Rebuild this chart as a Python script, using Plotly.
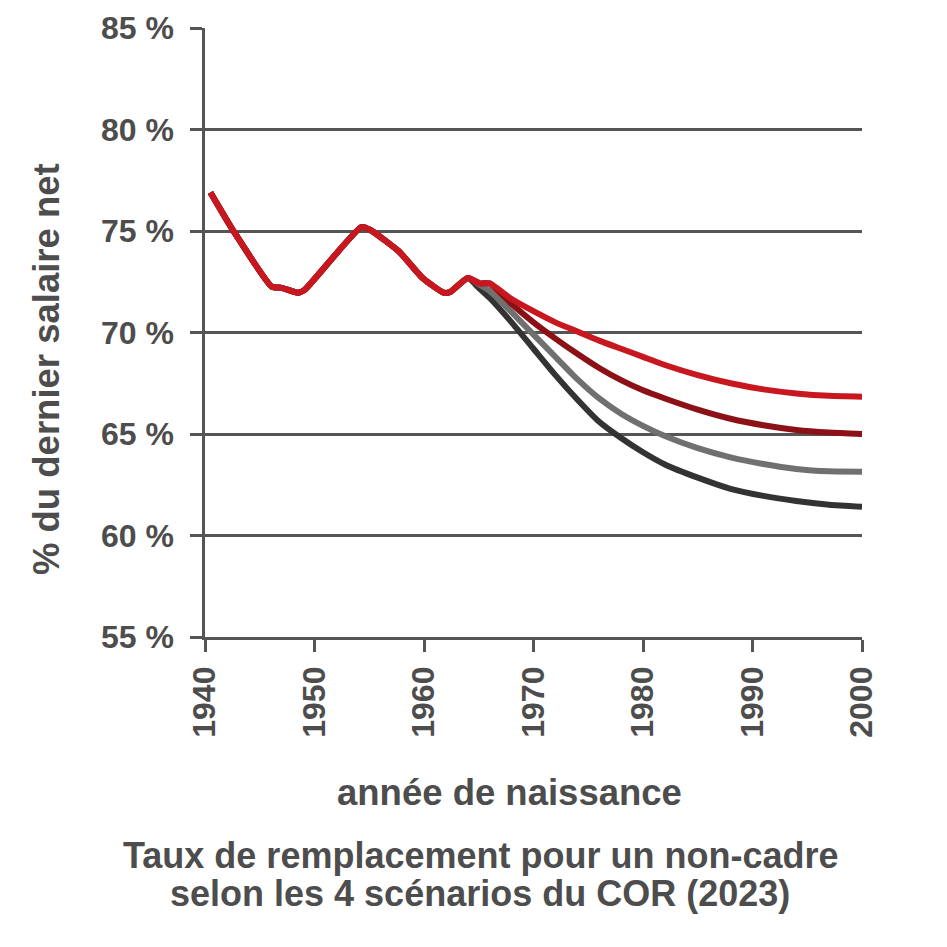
import plotly.graph_objects as go

# Historical (common) part
hist_years = [1940.5, 1942.6, 1946.1, 1947.0, 1948.5, 1949.1, 1954.3, 1955.1,
              1957.7, 1959.9, 1961.8, 1962.4, 1964.0]
hist_vals = [76.9, 75.0, 72.26, 72.2, 71.96, 72.1, 75.2, 75.05,
             74.0, 72.67, 71.96, 72.0, 72.68]

# Scenario projections
red_years = [1965.1, 1966, 1968, 1970, 1972, 1974, 1976, 1978, 1980, 1982, 1985, 1988, 1991, 1994, 1997, 2000]
red_vals = [72.42, 72.42, 71.65, 71.05, 70.5, 70.05, 69.6, 69.2, 68.8, 68.4, 67.9, 67.5, 67.2, 67.0, 66.88, 66.84]

dred_years = [1965.1, 1966, 1968, 1970, 1972, 1974, 1976, 1978, 1980, 1982, 1985, 1988, 1991, 1994, 1997, 2000]
dred_vals = [72.42, 72.42, 71.4, 70.5, 69.7, 68.95, 68.25, 67.65, 67.15, 66.75, 66.2, 65.75, 65.43, 65.2, 65.07, 65.0]

gray_years = [1965.1, 1966, 1968, 1970, 1972, 1974, 1976, 1978, 1980, 1982, 1985, 1988, 1991, 1994, 1997, 2000]
gray_vals = [72.35, 72.05, 71.0, 69.9, 68.8, 67.7, 66.75, 66.0, 65.4, 64.9, 64.3, 63.85, 63.52, 63.28, 63.16, 63.14]

black_years = [1965, 1966, 1968, 1970, 1972, 1974, 1976, 1978, 1980, 1982, 1985, 1988, 1991, 1994, 1997, 2000]
black_vals = [72.2, 71.7, 70.5, 69.2, 67.9, 66.7, 65.6, 64.8, 64.1, 63.5, 62.85, 62.3, 61.95, 61.7, 61.52, 61.42]

x_ticks = [1940, 1950, 1960, 1970, 1980, 1990, 2000]
y_ticks = [55, 60, 65, 70, 75, 80, 85]

series = [
    (black_years, black_vals, "#333333"),
    (gray_years, gray_vals, "#707070"),
    (dred_years, dred_vals, "#8c1117"),
    (red_years, red_vals, "#c8171e"),
]

TXT = "#4d4d4d"
AX = "#555555"
FONT = "Liberation Sans, Arial, sans-serif"

fig = go.Figure()
for yrs, vals, col in series:
    fig.add_trace(go.Scatter(
        x=hist_years + yrs, y=hist_vals + vals, mode="lines",
        line=dict(color=col, width=6, shape="spline", smoothing=0.5),
        hoverinfo="skip", showlegend=False))

fig.update_layout(
    width=939, height=939,
    margin=dict(l=197, r=85, t=20, b=310),
    plot_bgcolor="white", paper_bgcolor="white",
    font=dict(family=FONT, color=TXT),
    xaxis=dict(range=[1940, 2000], tickvals=x_ticks, ticktext=[str(v) for v in x_ticks],
               tickangle=-90, showgrid=False, zeroline=False, automargin=False,
               showline=True, linecolor=AX, linewidth=2.5,
               ticks="outside", ticklen=12, tickwidth=2.5, tickcolor=AX,
               ticklabelstandoff=2,
               tickfont=dict(family=FONT, size=32, color=TXT, weight="bold")),
    yaxis=dict(range=[55, 85], tickvals=y_ticks, ticktext=[f"{v} %" for v in y_ticks],
               showgrid=True, gridcolor=AX, gridwidth=2.5, zeroline=False, automargin=False,
               showline=True, linecolor=AX, linewidth=2.5,
               ticks="outside", ticklen=12, tickwidth=2.5, tickcolor=AX,
               ticklabelstandoff=10,
               tickfont=dict(family=FONT, size=32, color=TXT, weight="bold")),
)

ann_font = dict(family=FONT, size=36.5, color=TXT, weight="bold")
fig.add_annotation(text="% du dernier salaire net", xref="paper", yref="paper",
                   x=-0.242, y=0.44, textangle=-90, showarrow=False,
                   xanchor="center", yanchor="middle", font=ann_font)
fig.add_annotation(text="année de naissance", xref="paper", yref="paper",
                   x=0.464, y=-0.256, showarrow=False,
                   xanchor="center", yanchor="middle", font=ann_font)
title_font = dict(family=FONT, size=36, color=TXT, weight="bold")
fig.add_annotation(text="Taux de remplacement pour un non-cadre", xref="paper", yref="paper",
                   x=0.419, y=-0.358, showarrow=False,
                   xanchor="center", yanchor="middle", font=title_font)
fig.add_annotation(text="selon les 4 scénarios du COR (2023)", xref="paper", yref="paper",
                   x=0.419, y=-0.422, showarrow=False,
                   xanchor="center", yanchor="middle", font=title_font)

fig.write_html("out.html")
